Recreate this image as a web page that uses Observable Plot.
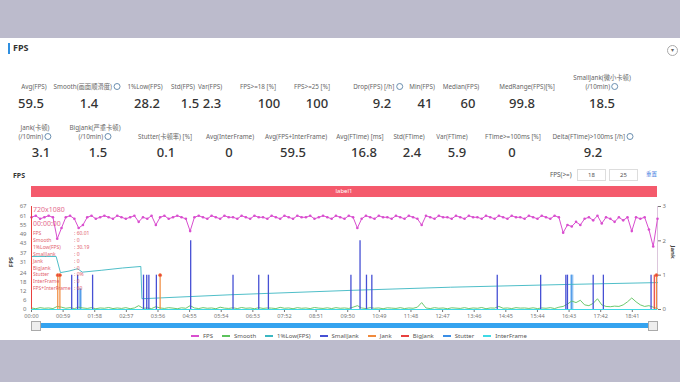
<!DOCTYPE html>
<html><head><meta charset="utf-8">
<script src="https://cdn.jsdelivr.net/npm/d3@7"></script>
<script src="https://cdn.jsdelivr.net/npm/@observablehq/plot@0.6"></script>
<style>
body{margin:0;width:680px;height:382px;background:#bcbbcc;font-family:"Noto Sans","Noto Sans CJK SC",sans-serif;position:relative;overflow:hidden;color:#333}
#panel{position:absolute;left:0;top:38px;width:680px;height:302px;background:#fff}
.abs{position:absolute;white-space:nowrap}
.lab{font-size:6.3px;color:#666;line-height:9px;text-align:center;transform:translate(-50%,-100%)}
.val{font-size:13px;font-weight:500;color:#333;transform:translate(-50%,-50%);line-height:14px}
.ic{display:inline-block;width:5px;height:5px;border:0.7px solid #6a8fb0;border-radius:50%;vertical-align:-1px;margin-left:1.5px}
.tt{font-size:5px;color:#e0505e;line-height:6px;opacity:.9}
#legend{display:flex;gap:9px;font-size:6px;color:#555;align-items:center}
#legend span.sw{display:inline-block;width:8px;height:2px;margin-right:4px;vertical-align:middle}
#chart{position:absolute;left:0;top:160px}
</style></head>
<body>
<div id="panel"></div>
<div id="root"></div>
<script>
// ---------- summary statistics ----------
const statLabels1 = ["Avg(FPS)","Smooth(画面顺滑度)","1%Low(FPS)","Std(FPS)","Var(FPS)","FPS>=18 [%]","FPS>=25 [%]","Drop(FPS) [/h]","Min(FPS)","Median(FPS)","MedRange(FPS)[%]","SmallJank(微小卡顿)\n(/10min)"];
const statValues1 = ["59.5","1.4","28.2","1.5","2.3","100","100","9.2","41","60","99.8","18.5"];
const statIcons1  = [false,true,false,false,false,false,false,true,false,false,false,true];
const statLabels2 = ["Jank(卡顿)\n(/10min)","BigJank(严重卡顿)\n(/10min)","Stutter(卡顿率) [%]","Avg(InterFrame)","Avg(FPS+InterFrame)","Avg(FTime) [ms]","Std(FTime)","Var(FTime)","FTime>=100ms [%]","Delta(FTime)>100ms [/h]"];
const statValues2 = ["3.1","1.5","0.1","0","59.5","16.8","2.4","5.9","0","9.2"];
const statIcons2  = [true,true,false,false,false,false,false,false,false,true];

// ---------- chart series (time in seconds) ----------
const fpsStep = 8;
const fpsValues = [60,61,59,60,61,60,46,53,60,61, 59,53,55,60,61,59,60,61,60,59,
 61,60,59,60,61,57,60,59,61,55, 60,61,59,60,61,60,59,51,60,61,
 60,59,61,60,59,61,60,60,59,61, 60,59,61,60,60,59,61,60,59,61,
 60,59,61,60,60,61,59,60,61,60, 59,61,60,59,61,60,53,59,61,60,
 59,61,60,60,59,61,60,59,61,60, 59,55,61,60,59,61,60,60,59,61,
 60,59,61,60,60,59,61,60,59,61, 60,59,61,60,60,59,61,60,59,61,
 60,59,61,60,50,55,54,57,55,59, 60,58,61,56,60,59,57,60,58,60,
 51,60,59,60,52,41,59];
const smoothValues = [1,0.5,1.2,0.8,1,0.6,2,1.5,0.8,1.2, 0.6,1.5,1,0.7,1.2,0.5,1,0.8,1.3,0.6,
 1,0.7,1.2,0.5,1,2.5,0.8,1,0.6,1.8, 1,0.7,1.2,0.9,0.5,1.1,0.8,2.5,1,0.6,
 1.2,0.8,1,0.5,1.5,0.9,0.7,1.1,0.6,1.3, 0.8,1,0.5,1.2,0.7,1,0.9,0.6,1.4,0.8,
 1,0.5,1.2,0.8,1,0.6,1.3,0.9,0.7,1.1, 0.6,1.2,0.8,1,0.7,1.5,2.5,1,0.6,1.2,
 0.8,1,0.5,1.1,0.9,0.7,1.2,0.6,1,0.8, 1.5,4.5,1,0.6,1.2,0.8,1,0.5,1.1,0.9,
 0.7,1.2,0.6,1,0.8,1.3,0.5,1,0.9,2, 0.8,1,0.6,1.2,0.9,1,0.7,1.1,0.6,1,
 0.8,1.2,0.6,1.5,2,3.5,5.5,4.5,6,3, 2.5,4,7,3,2,1.8,2.2,2,3,5,
 7.5,5,3,2,2.5,1.5,0.5];
const lowTimes  = [0,46,54,70,86,95,130,170,204,206,372,600,782,1000,1168];
const lowValues = [34.5,34.5,24,25,26.5,24.3,25.5,27,28,7,9.6,12.5,14.5,16.3,17.5];
const smallJankTimes  = [75,86,114,209,215,219,233,297,376,424,442,596,613,625,635,869,950,997,1000,1048,1067,1156];
const smallJankValues = [1,1,1,1,1,1,1,2,1,1,1,1,2,1,1,1,1,1,1,1,1,1];
const jankTimes  = [49,53,240,1166];
const jankValues = [1,1,1,1];
const bigJankTimes  = [1162];
const bigJankValues = [1];
const stutterTimes  = [91,1008];
const stutterValues = [0.6,1];
const interFrameValue = 0;

// ---------- axes ----------
const xMax = 1168;
const yMax = 67;
const jankMax = 3;
const xTickSeconds = [0,59,118,177,236,295,354,413,472,531,590,649,708,767,826,885,944,1003,1062,1121];
const xTickLabels = ["00:00","00:59","01:58","02:57","03:56","04:55","05:54","06:53","07:52","08:51","09:50","10:49","11:48","12:47","13:46","14:45","15:44","16:43","17:42","18:41"];
const yTicks = [0,6,12,18,24,31,37,43,49,55,61,67];
const jankTicks = [0,1,2,3];

// ---------- legend / tooltip ----------
const seriesNames  = ["FPS","Smooth","1%Low(FPS)","SmallJank","Jank","BigJank","Stutter","InterFrame"];
const seriesColors = ["#d94ecf","#5cc25c","#3bb7c2","#4650d4","#f08a3c","#e8413f","#3a8ee6","#3fd9e6"];
const tipHeader = ["720x1080","00:00:00"];
const tipNames  = ["FPS","Smooth","1%Low(FPS)","SmallJank","Jank","BigJank","Stutter","InterFrame","FPS+InterFrame"];
const tipValues = ["60.01","0","30.19","0","0","0","0%","0","60"];

const C = Object.fromEntries(seriesNames.map((n,i)=>[n,seriesColors[i]]));
const root = document.getElementById("root");
function el(html, style, cls){const d=document.createElement("div");d.className="abs "+(cls||"");d.innerHTML=html;Object.assign(d.style,style||{});root.appendChild(d);return d;}

// header
el("", {left:"8px",top:"43px",width:"2px",height:"11px",background:"#2f8fe0"});
el("FPS", {left:"13px",top:"42px",fontSize:"9px",fontWeight:"700",color:"#333",lineHeight:"12px"});
el("▾", {left:"667px",top:"45px",width:"9px",height:"9px",border:"0.8px solid #aaa",borderRadius:"50%",fontSize:"6px",lineHeight:"9px",textAlign:"center",color:"#666"});

// stats
const lab1X = [34,87,145,183,210,258,312,378,422,461,527,602];
const val1X = [31,89,147,190,212,269,317,382,425,468,522,602];
const lab2X = [35,95,165,230,296,360,409,452,513,593];
const val2X = [41,98,166,229,293,364,412,457,512,593];
function labHtml(t, ic){return t.split("\n").map((s,i,a)=>s+(ic&&i===a.length-1?'<span class="ic"></span>':"")).join("<br>");}
statLabels1.forEach((t,i)=>{
  el(labHtml(t,statIcons1[i]),{left:lab1X[i]+"px",top:"91px"},"lab");
  el(statValues1[i],{left:val1X[i]+"px",top:"103px"},"val");
});
statLabels2.forEach((t,i)=>{
  el(labHtml(t,statIcons2[i]),{left:lab2X[i]+"px",top:"141px"},"lab");
  el(statValues2[i],{left:val2X[i]+"px",top:"151.5px"},"val");
});

// chart header
el("FPS",{left:"13px",top:"171px",fontSize:"7px",fontWeight:"700",lineHeight:"9px"});
el("FPS(>=)",{left:"550px",top:"170px",fontSize:"6.3px",color:"#555",lineHeight:"9px"});
el("18",{left:"577px",top:"169px",width:"27px",height:"10px",border:"0.7px solid #ddd",fontSize:"6px",lineHeight:"10px",textAlign:"center",color:"#555"});
el("25",{left:"609px",top:"169px",width:"27px",height:"10px",border:"0.7px solid #ddd",fontSize:"6px",lineHeight:"10px",textAlign:"center",color:"#555"});
el("重置",{left:"646px",top:"170px",fontSize:"5.5px",color:"#3a7be0",lineHeight:"9px"});
el("label1",{left:"31px",top:"186px",width:"626px",height:"11px",background:"#f45a6c",color:"#fff",fontSize:"6px",lineHeight:"11px",textAlign:"center"});

// plot
const JK = yMax/jankMax;
const fpsData = fpsValues.map((v,i)=>({t:i*fpsStep,v}));
const smoothData = smoothValues.map((v,i)=>({t:i*fpsStep,v}));
const lowData = lowTimes.map((t,i)=>({t,v:lowValues[i]}));
const pairs = (ts,vs)=>ts.map((t,i)=>({t,v:vs[i]}));
const sj = pairs(smallJankTimes,smallJankValues), jk = pairs(jankTimes,jankValues), bj = pairs(bigJankTimes,bigJankValues), st = pairs(stutterTimes,stutterValues);
const xFmt = new Map(xTickSeconds.map((s,i)=>[s,xTickLabels[i]]));

const chart = Plot.plot({
  width:680, height:170,
  marginLeft:31, marginRight:23, marginTop:46, marginBottom:21,
  style:{background:"transparent",fontFamily:"Noto Sans, sans-serif",fontSize:"6px",color:"#777"},
  x:{domain:[0,xMax]},
  y:{domain:[0,yMax]},
  marks:[
    Plot.axisY({ticks:yTicks,tickSize:0,tickPadding:5,label:null,fontSize:6}),
    Plot.axisY({anchor:"right",ticks:jankTicks.map(v=>v*JK),tickFormat:d=>String(Math.round(d/JK)),tickSize:3,tickPadding:2,label:null,fontSize:6}),
    Plot.axisX({ticks:xTickSeconds,tickFormat:d=>xFmt.get(d),tickSize:3,tickPadding:1.5,label:null,fontSize:5.6}),
    Plot.ruleX([xMax],{stroke:"#dcc6dc"}),
    Plot.ruleY([0],{stroke:"#ccc"}),
    Plot.ruleY([interFrameValue],{stroke:C.InterFrame,strokeWidth:1}),
    Plot.ruleX(st,{x:"t",y1:0,y2:d=>d.v*JK,stroke:C.Stutter,strokeWidth:3.5,strokeOpacity:0.4}),
    Plot.ruleX(st,{x:"t",y1:0,y2:d=>d.v*JK,stroke:C.Stutter,strokeWidth:1}),
    Plot.lineY(smoothData,{x:"t",y:"v",stroke:C.Smooth,strokeWidth:0.9}),
    Plot.lineY(lowData,{x:"t",y:"v",stroke:C["1%Low(FPS)"],strokeWidth:0.9}),
    Plot.ruleX(sj,{x:"t",y1:0,y2:d=>d.v*JK,stroke:C.SmallJank,strokeWidth:1.3}),
    Plot.ruleX(jk,{x:"t",y1:0,y2:d=>d.v*JK,stroke:C.Jank,strokeWidth:1.2}),
    Plot.ruleX(bj,{x:"t",y1:0,y2:d=>d.v*JK,stroke:C.BigJank,strokeWidth:1.2}),
    Plot.dot(jk,{x:"t",y:d=>d.v*JK,r:1.6,fill:C.BigJank,stroke:C.Jank,strokeWidth:0.6}),
    Plot.lineY(fpsData,{x:"t",y:"v",stroke:C.FPS,strokeWidth:1}),
    Plot.dot(fpsData,{x:"t",y:"v",r:1.3,fill:C.FPS,stroke:"none"}),
    Plot.ruleX([0],{stroke:"#e8413f",strokeWidth:1})
  ]
});
const holder = document.createElement("div"); holder.id="chart"; holder.appendChild(chart); root.appendChild(holder);

// axis titles
el("FPS",{left:"6px",top:"258px",fontSize:"6px",fontWeight:"700",color:"#444",transform:"rotate(-90deg)",lineHeight:"8px"});
el("Jank",{left:"666px",top:"248px",fontSize:"6px",fontWeight:"700",color:"#444",transform:"rotate(90deg)",lineHeight:"8px"});

// tooltip
tipHeader.forEach((h,i)=>el(h,{left:"33px",top:(206+i*14)+"px",fontSize:"7px",lineHeight:"8px",color:"#e0507a",opacity:0.85}));
tipNames.forEach((n,i)=>{
  el(n,{left:"33px",top:(230+i*6.9)+"px"},"tt");
  el(": "+tipValues[i],{left:"74px",top:(230+i*6.9)+"px"},"tt");
});

// scrollbar
el("",{left:"31px",top:"323px",width:"626px",height:"5px",background:"#35a3ef"});
el("",{left:"31px",top:"321px",width:"8px",height:"8px",background:"#eee",border:"0.7px solid #aaa"});
el("",{left:"648px",top:"321px",width:"8px",height:"8px",background:"#eee",border:"0.7px solid #aaa"});

// legend
const lg = el("",{left:"191px",top:"332px"}); lg.id="legend";
seriesNames.forEach((n,i)=>{const s=document.createElement("div");s.innerHTML='<span class="sw" style="background:'+seriesColors[i]+'"></span>'+n;lg.appendChild(s);});
</script>
</body></html>
